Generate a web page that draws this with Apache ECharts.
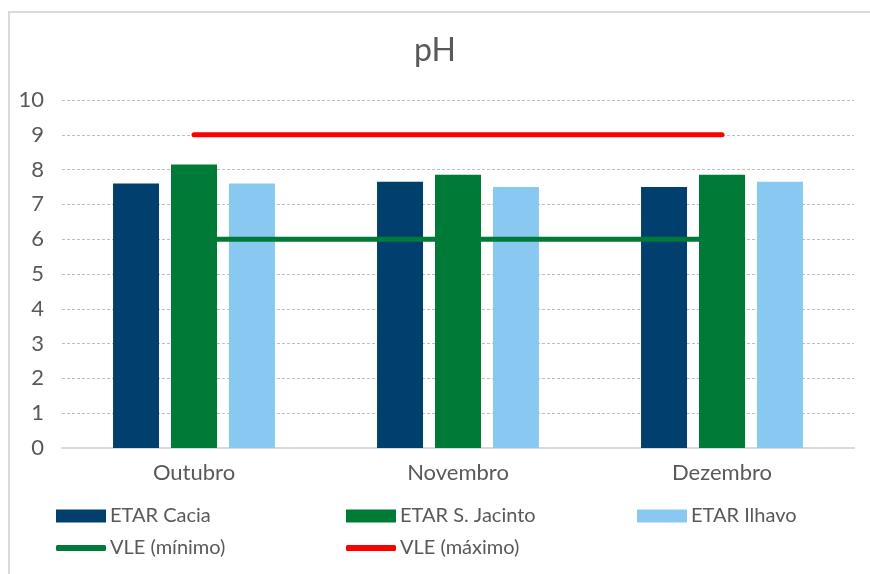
<!DOCTYPE html>
<html><head><meta charset="utf-8">
<script src="https://cdn.jsdelivr.net/npm/echarts@6/dist/echarts.min.js"></script>
<style>html,body{margin:0;padding:0;background:#fff}#c{width:870px;height:574px}</style>
</head><body><div id="c"></div>
<script>
var categories = ['Outubro', 'Novembro', 'Dezembro'];
var cacia = [7.6, 7.65, 7.5];
var jacinto = [8.15, 7.85, 7.85];
var ilhavo = [7.6, 7.5, 7.65];
var vleMin = [6, 6, 6];
var vleMax = [9, 9, 9];
var yTicks = [0, 1, 2, 3, 4, 5, 6, 7, 8, 9, 10];

var FONT = 'Lato, "Noto Sans", sans-serif';
var TXT = '#595959';
var chart = echarts.init(document.getElementById('c'), null, {renderer: 'canvas'});
function leg(name, left, top, icon) {
  return {data: [{name: name, icon: icon}], left: left, top: top, itemWidth: 50, itemHeight: icon === 'rect' ? 13 : 6,
    textStyle: {color: TXT, fontSize: 20, fontFamily: FONT, padding: [0, 0, 0, -1]}, itemGap: 0, padding: 0, selectedMode: false};
}
chart.setOption({
  animation: false,
  title: {text: 'pH', left: 'center', top: 30, textStyle: {color: TXT, fontSize: 32, fontWeight: 'normal', fontFamily: FONT}},
  graphic: [{type: 'rect', shape: {x: 9, y: 12, width: 900, height: 600}, style: {fill: 'none', stroke: '#d9d9d9', lineWidth: 2}, silent: true}],
  legend: [
    leg('ETAR Cacia', 56, 506, 'rect'),
    leg('ETAR S. Jacinto', 346, 506, 'rect'),
    leg('ETAR Ilhavo', 637, 506, 'rect'),
    leg('VLE (mínimo)', 56, 538, 'roundRect'),
    leg('VLE (máximo)', 346, 538, 'roundRect')
  ],
  grid: {left: 62, right: 16, top: 100, bottom: 126},
  xAxis: {type: 'category', data: categories,
    axisLine: {lineStyle: {color: '#d9d9d9', width: 2}}, axisTick: {show: false},
    axisLabel: {color: TXT, fontSize: 22, fontFamily: FONT, margin: 14}},
  yAxis: {type: 'value', min: 0, max: 10, interval: 1,
    axisLine: {show: false}, axisTick: {show: false},
    axisLabel: {color: TXT, fontSize: 22, fontFamily: FONT, margin: 18,
      formatter: function (v) { return yTicks.indexOf(v) >= 0 ? String(v) : ''; }},
    splitLine: {lineStyle: {color: '#bfbfbf', type: [3, 2], width: 1}}},
  series: [
    {name: 'ETAR Cacia', type: 'bar', data: cacia, barWidth: 46, barGap: '26%', itemStyle: {color: '#003f6e'}},
    {name: 'ETAR S. Jacinto', type: 'bar', data: jacinto, barWidth: 46, barGap: '26%', itemStyle: {color: '#007a37'}},
    {name: 'ETAR Ilhavo', type: 'bar', data: ilhavo, barWidth: 46, barGap: '26%', itemStyle: {color: '#89c9f1'}},
    {name: 'VLE (mínimo)', type: 'line', data: vleMin, symbol: 'none', z: 3, lineStyle: {color: '#007a37', width: 5, cap: 'round'}, itemStyle: {color: '#007a37'}},
    {name: 'VLE (máximo)', type: 'line', data: vleMax, symbol: 'none', z: 3, lineStyle: {color: '#ff0000', width: 5, cap: 'round'}, itemStyle: {color: '#ff0000'}}
  ]
});
</script></body></html>
